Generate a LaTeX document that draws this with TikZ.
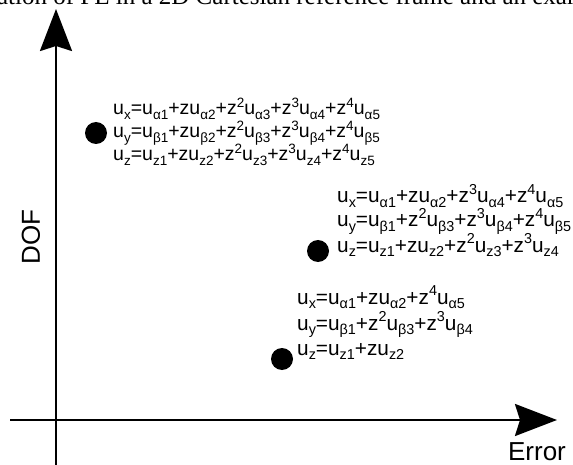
\documentclass[tikz,border=0pt]{standalone}
\usepackage{fontspec}
\setmainfont{Liberation Sans}
\newfontfamily\capfont{Liberation Serif}
\usetikzlibrary{arrows.meta}
\def\ssz{13.5}
\newcommand{\mysb}[1]{\raisebox{-0.235em}{\fontsize{\ssz}{\ssz}\selectfont #1}}
\newcommand{\mysp}[1]{\raisebox{0.39em}{\fontsize{\ssz}{\ssz}\selectfont #1}}
\begin{document}
\begin{tikzpicture}[x=1pt,y=-1pt,
  eqa/.style={anchor=base west, inner sep=0pt, font=\def\ssz{13.5}\fontsize{19.5}{23}\selectfont},
  eqb/.style={anchor=base west, inner sep=0pt, font=\def\ssz{14.4}\fontsize{20.8}{25}\selectfont},
  dot/.style={circle, fill=black, inner sep=0pt, minimum size=22pt},
  axis/.style={line width=2.5pt, -{Stealth[length=42pt,width=32pt,inset=5pt]}},
  lbl/.style={inner sep=0pt, font=\fontsize{26}{26}\selectfont}]
\useasboundingbox (0,0) rectangle (573,465);
\clip (0,0) rectangle (573,465);
% cut-off caption
\node[anchor=base west, inner sep=0pt, font=\capfont\fontsize{25}{25}\selectfont] (cap) at (-10,5) {tation of FE in a 2D Cartesian reference frame and an example};
% axes
\coordinate (yb) at (56,465);
\coordinate (yt) at (56,9);
\coordinate (xl) at (10,420);
\coordinate (xr) at (557,420);
\draw[axis] (yb) -- (yt);
\draw[axis] (xl) -- (xr);
\node[lbl, rotate=90] (dof) at (31,237) {DOF};
\node[lbl] (err) at (537,452) {Error};
% group 1
\node[dot] (p1) at (96,133) {};
\node[eqa] (a1) at (113,115) {u\mysb{x}=u\mysb{α1}+zu\mysb{α2}+z\mysp{2}u\mysb{α3}+z\mysp{3}u\mysb{α4}+z\mysp{4}u\mysb{α5}};
\node[eqa] (b1) at (113,138) {u\mysb{y}=u\mysb{β1}+zu\mysb{β2}+z\mysp{2}u\mysb{β3}+z\mysp{3}u\mysb{β4}+z\mysp{4}u\mysb{β5}};
\node[eqa] (c1) at (113,161) {u\mysb{z}=u\mysb{z1}+zu\mysb{z2}+z\mysp{2}u\mysb{z3}+z\mysp{3}u\mysb{z4}+z\mysp{4}u\mysb{z5}};
% group 2
\node[dot] (p2) at (318,251) {};
\node[eqb] (a2) at (337,203) {u\mysb{x}=u\mysb{α1}+zu\mysb{α2}+z\mysp{3}u\mysb{α4}+z\mysp{4}u\mysb{α5}};
\node[eqb] (b2) at (337,227) {u\mysb{y}=u\mysb{β1}+z\mysp{2}u\mysb{β3}+z\mysp{3}u\mysb{β4}+z\mysp{4}u\mysb{β5}};
\node[eqb] (c2) at (337,252) {u\mysb{z}=u\mysb{z1}+zu\mysb{z2}+z\mysp{2}u\mysb{z3}+z\mysp{3}u\mysb{z4}};
% group 3
\node[dot] (p3) at (282,359) {};
\node[eqb] (a3) at (297,304) {u\mysb{x}=u\mysb{α1}+zu\mysb{α2}+z\mysp{4}u\mysb{α5}};
\node[eqb] (b3) at (297,330) {u\mysb{y}=u\mysb{β1}+z\mysp{2}u\mysb{β3}+z\mysp{3}u\mysb{β4}};
\node[eqb] (c3) at (297,355) {u\mysb{z}=u\mysb{z1}+zu\mysb{z2}};
\end{tikzpicture}
\end{document}
